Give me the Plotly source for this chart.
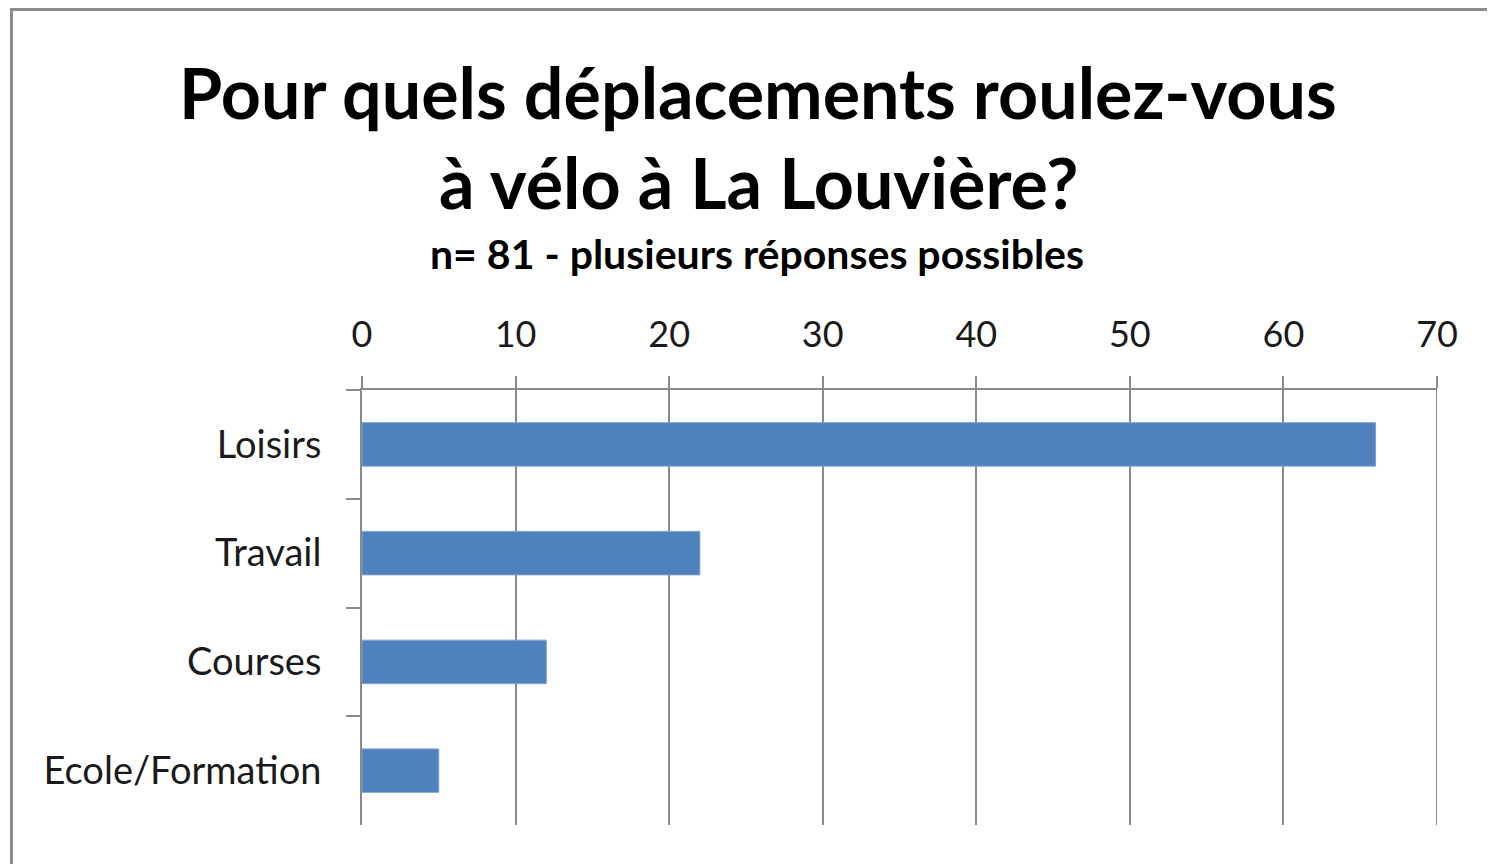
import plotly.graph_objects as go

categories = ["Loisirs", "Travail", "Courses", "Ecole/Formation"]
values = [66, 22, 12, 5]
x_ticks = [0, 10, 20, 30, 40, 50, 60, 70]

OFF = 8  # default page margin of the html body
W, H = 1495 - OFF, 864 - OFF
L, R, T, B = 362 - OFF, 58, 390 - OFF, 39
PW, PH = W - L - R, H - T - B

def px_x(px):
    return (px - OFF - L) / PW

def px_y(py):
    return (H - B - (py - OFF)) / PH

FONT = "Lato"
GRID = "#8a8a8a"

fig = go.Figure(go.Bar(
    y=categories, x=values, orientation="h",
    marker=dict(color="#4F81BD", line=dict(color="#7EA3D2", width=1)),
    width=0.4,
))

fig.update_layout(
    width=W, height=H,
    margin=dict(l=L, r=R, t=T, b=B),
    paper_bgcolor="white", plot_bgcolor="white",
    showlegend=False,
    font=dict(family=FONT, color="#000000"),
    xaxis=dict(
        side="top", range=[x_ticks[0], x_ticks[-1]], tickvals=x_ticks,
        showgrid=True, gridcolor=GRID, gridwidth=2,
        showline=True, linecolor=GRID, linewidth=2,
        ticks="outside", ticklen=12, tickwidth=2, tickcolor=GRID,
        tickfont=dict(family=FONT, size=36, color="#1a1a1a"),
        ticklabelstandoff=15,
        zeroline=False,
    ),
    yaxis=dict(
        autorange="reversed",
        showline=True, linecolor=GRID, linewidth=2,
        ticks="outside", ticklen=14, tickwidth=2, tickcolor=GRID,
        tickson="boundaries",
        showgrid=False,
        tickfont=dict(family=FONT, size=38, color="#1a1a1a"),
        ticklabelstandoff=31,
    ),
    bargap=0.6,
)

# gridline at the last tick (right edge of the plot area)
fig.add_shape(type="line", xref="x", yref="paper",
              x0=x_ticks[-1], x1=x_ticks[-1], y0=0, y1=1,
              line=dict(color=GRID, width=2), layer="below")

fig.add_annotation(text="<b>Pour quels déplacements roulez-vous</b>",
                   x=px_x(758), y=px_y(92), xref="paper", yref="paper",
                   showarrow=False, xanchor="center", yanchor="middle",
                   font=dict(family=FONT, size=70, color="#000000"))
fig.add_annotation(text="<b>à vélo à La Louvière?</b>",
                   x=px_x(758), y=px_y(182), xref="paper", yref="paper",
                   showarrow=False, xanchor="center", yanchor="middle",
                   font=dict(family=FONT, size=70, color="#000000"))
fig.add_annotation(text="<b>n= 81 - plusieurs réponses possibles</b>",
                   x=px_x(757), y=px_y(254), xref="paper", yref="paper",
                   showarrow=False, xanchor="center", yanchor="middle",
                   font=dict(family=FONT, size=41, color="#000000"))

fig.add_shape(type="rect", xref="paper", yref="paper",
              x0=px_x(11.5), y0=px_y(900), x1=px_x(1530), y1=px_y(9.5),
              line=dict(color="#8c8c8c", width=3), fillcolor="rgba(0,0,0,0)",
              layer="below")

fig.write_html("out.html")
